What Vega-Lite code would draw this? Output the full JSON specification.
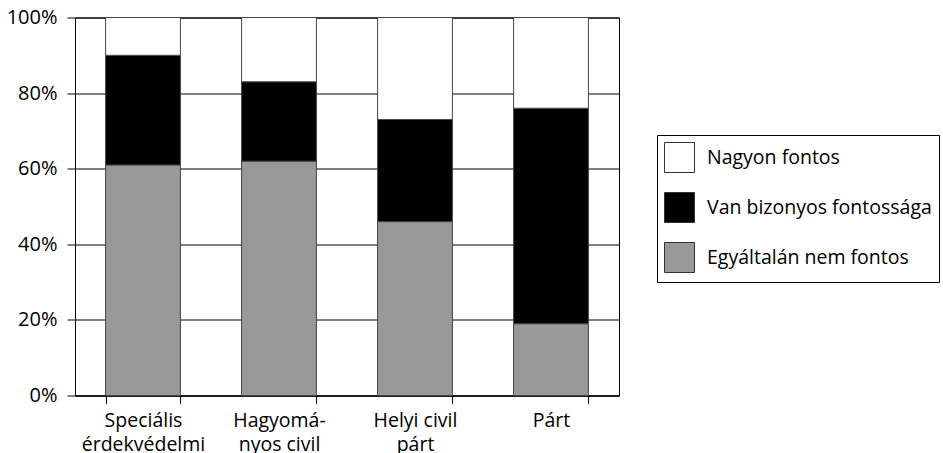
{
  "$schema": "https://vega.github.io/schema/vega-lite/v6.json",
  "autosize": "none",
  "padding": {"left": 75, "top": 17.5, "right": 324, "bottom": 57.5},
  "width": 544,
  "height": 378,
  "background": "white",
  "config": {
    "font": "Open Sans",
    "view": {"stroke": "black", "strokeWidth": 1}
  },
  "data": {
    "values": [
      {"kat": "Speciális|érdekvédelmi", "valasz": "Egyáltalán nem fontos", "ertek": 61, "rend": 1},
      {"kat": "Speciális|érdekvédelmi", "valasz": "Van bizonyos fontossága", "ertek": 29, "rend": 2},
      {"kat": "Speciális|érdekvédelmi", "valasz": "Nagyon fontos", "ertek": 10, "rend": 3},
      {"kat": "Hagyomá-|nyos civil", "valasz": "Egyáltalán nem fontos", "ertek": 62, "rend": 1},
      {"kat": "Hagyomá-|nyos civil", "valasz": "Van bizonyos fontossága", "ertek": 21, "rend": 2},
      {"kat": "Hagyomá-|nyos civil", "valasz": "Nagyon fontos", "ertek": 17, "rend": 3},
      {"kat": "Helyi civil|párt", "valasz": "Egyáltalán nem fontos", "ertek": 46, "rend": 1},
      {"kat": "Helyi civil|párt", "valasz": "Van bizonyos fontossága", "ertek": 27, "rend": 2},
      {"kat": "Helyi civil|párt", "valasz": "Nagyon fontos", "ertek": 27, "rend": 3},
      {"kat": "Párt", "valasz": "Egyáltalán nem fontos", "ertek": 19, "rend": 1},
      {"kat": "Párt", "valasz": "Van bizonyos fontossága", "ertek": 57, "rend": 2},
      {"kat": "Párt", "valasz": "Nagyon fontos", "ertek": 24, "rend": 3}
    ]
  },
  "mark": {"type": "bar", "stroke": "#444444", "strokeWidth": 1},
  "encoding": {
    "x": {
      "field": "kat",
      "type": "nominal",
      "sort": null,
      "title": null,
      "scale": {"paddingInner": 0.45, "paddingOuter": 0.225},
      "axis": {
        "labelExpr": "split(datum.label, '|')",
        "labelAngle": 0,
        "labelFontSize": 19.5,
        "labelColor": "black",
        "labelLineHeight": 24,
        "labelPadding": 8,
        "labelBaseline": "top",
        "tickBand": "extent",
        "tickSize": 8,
        "tickColor": "black",
        "domainColor": "black",
        "grid": false
      }
    },
    "y": {
      "field": "ertek",
      "type": "quantitative",
      "stack": "zero",
      "title": null,
      "scale": {"domain": [0, 100], "nice": false},
      "axis": {
        "values": [0, 20, 40, 60, 80, 100],
        "labelExpr": "datum.value + '%'",
        "labelFontSize": 20,
        "labelColor": "black",
        "labelPadding": 10,
        "tickSize": 8,
        "tickColor": "black",
        "domainColor": "black",
        "grid": true,
        "gridColor": "black",
        "gridOpacity": 1,
        "gridWidth": 1
      }
    },
    "order": {"field": "rend", "type": "quantitative"},
    "color": {
      "field": "valasz",
      "type": "nominal",
      "scale": {
        "domain": ["Nagyon fontos", "Van bizonyos fontossága", "Egyáltalán nem fontos"],
        "range": ["#ffffff", "#000000", "#999999"]
      },
      "legend": {
        "title": null,
        "orient": "none",
        "legendX": 582,
        "legendY": 117.5,
        "strokeColor": "black",
        "fillColor": "white",
        "padding": 7,
        "symbolType": "square",
        "symbolSize": 900,
        "symbolStrokeColor": "#333333",
        "symbolStrokeWidth": 1,
        "symbolOpacity": 1,
        "labelFontSize": 19.5,
        "labelColor": "black",
        "labelOffset": 12,
        "rowPadding": 15,
        "labelLimit": 400
      }
    }
  }
}
